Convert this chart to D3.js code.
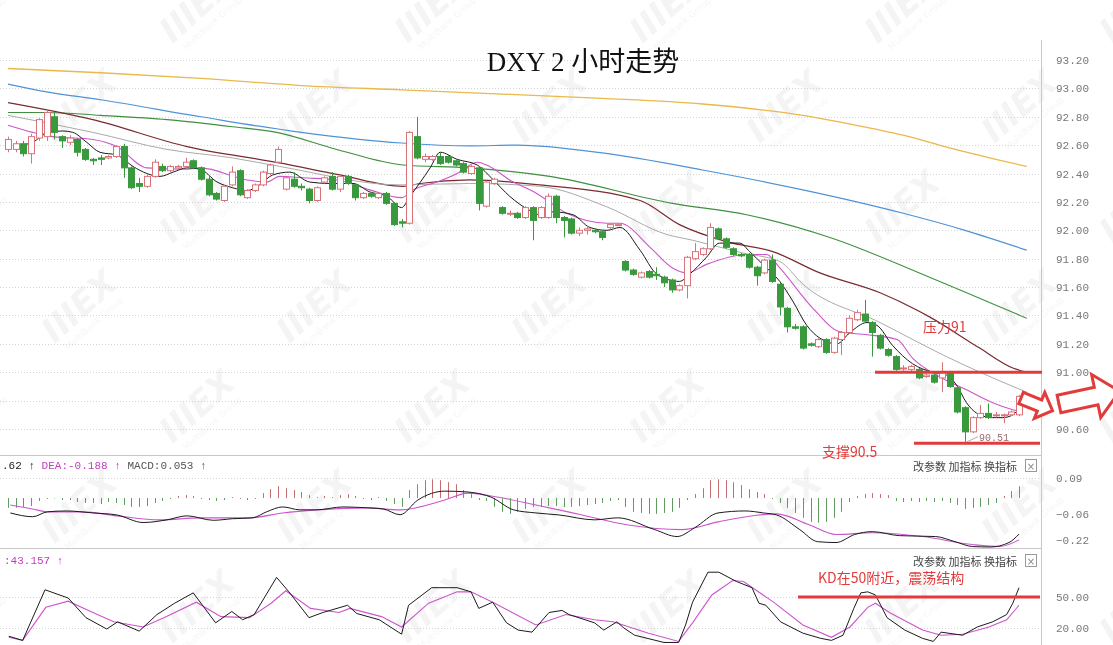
<!DOCTYPE html>
<html><head><meta charset="utf-8">
<script src="https://cdn.jsdelivr.net/npm/d3@7"></script>
<style>
body{margin:0;background:#fff;overflow:hidden}
svg{display:block}
</style></head>
<body><svg id="chart" width="1113" height="645"></svg>
<script>
// ---------- DATA ----------
const opens =[92.57,92.57,92.61,92.54,92.65,92.66,92.80,92.66,92.62,92.64,92.57,92.50,92.51,92.51,92.52,92.59,92.44,92.33,92.31,92.38,92.45,92.42,92.44,92.45,92.49,92.44,92.36,92.26,92.21,92.32,92.42,92.23,92.28,92.32,92.40,92.48,92.29,92.36,92.31,92.29,92.21,92.34,92.38,92.29,92.38,92.32,92.23,92.26,92.23,92.26,92.19,92.06,92.05,92.66,92.50,92.50,92.52,92.52,92.49,92.47,92.40,92.44,92.17,92.33,92.16,92.12,92.12,92.09,92.16,92.09,92.09,92.24,92.09,92.08,91.98,92.00,92.00,91.99,92.02,92.04,91.78,91.72,91.67,91.71,91.69,91.67,91.65,91.58,91.61,91.80,91.83,91.87,92.01,91.94,91.87,91.83,91.83,91.74,91.70,91.79,91.62,91.45,91.32,91.32,91.20,91.18,91.23,91.14,91.23,91.28,91.37,91.41,91.35,91.26,91.16,91.11,91.03,91.02,91.02,90.97,90.98,90.96,91.00,90.89,90.75,90.58,90.68,90.71,90.70,90.70,90.70,90.70];
const highs =[92.66,92.63,92.63,92.68,92.79,92.85,92.83,92.67,92.67,92.65,92.58,92.51,92.53,92.53,92.60,92.61,92.45,92.37,92.39,92.50,92.47,92.46,92.46,92.51,92.50,92.45,92.39,92.27,92.32,92.45,92.43,92.29,92.33,92.42,92.47,92.59,92.38,92.41,92.33,92.30,92.31,92.38,92.41,92.39,92.39,92.33,92.27,92.27,92.27,92.27,92.20,92.08,92.70,92.80,92.54,92.53,92.55,92.53,92.50,92.48,92.46,92.45,92.35,92.37,92.17,92.14,92.13,92.17,92.17,92.17,92.26,92.25,92.10,92.09,92.02,92.03,92.01,92.00,92.05,92.05,91.79,91.73,91.71,91.72,91.74,91.68,91.66,91.62,91.82,91.91,91.88,92.05,92.02,91.95,91.88,91.84,91.84,91.75,91.80,91.83,91.63,91.46,91.34,91.33,91.21,91.24,91.24,91.25,91.29,91.40,91.44,91.51,91.36,91.27,91.17,91.12,91.05,91.05,91.03,90.99,90.99,91.07,91.01,90.90,90.76,90.69,90.77,90.78,90.72,90.71,90.73,90.84];
const lows  =[92.55,92.55,92.52,92.47,92.63,92.63,92.64,92.58,92.60,92.52,92.49,92.46,92.46,92.50,92.51,92.37,92.29,92.27,92.30,92.37,92.41,92.41,92.43,92.44,92.43,92.35,92.24,92.21,92.20,92.31,92.24,92.22,92.27,92.31,92.39,92.47,92.28,92.30,92.28,92.19,92.20,92.33,92.28,92.27,92.32,92.21,92.22,92.23,92.22,92.18,92.03,92.02,92.04,92.50,92.48,92.49,92.46,92.47,92.45,92.40,92.39,92.14,92.16,92.32,92.11,92.10,92.08,92.08,91.93,92.08,92.08,92.05,91.95,91.97,91.96,91.97,91.98,91.93,92.01,92.03,91.71,91.68,91.66,91.66,91.65,91.60,91.56,91.57,91.52,91.79,91.82,91.86,91.93,91.87,91.82,91.81,91.73,91.61,91.69,91.63,91.40,91.28,91.30,91.16,91.18,91.17,91.13,91.13,91.12,91.27,91.36,91.35,91.11,91.16,91.11,91.01,91.01,91.01,90.95,90.96,90.92,90.86,90.89,90.71,90.51,90.57,90.67,90.67,90.68,90.64,90.69,90.69];
const closes=[92.64,92.61,92.54,92.66,92.78,92.83,92.69,92.63,92.65,92.55,92.50,92.49,92.50,92.52,92.59,92.44,92.30,92.31,92.38,92.48,92.42,92.45,92.45,92.48,92.44,92.36,92.25,92.22,92.31,92.41,92.25,92.28,92.32,92.41,92.46,92.57,92.37,92.31,92.30,92.21,92.30,92.37,92.29,92.38,92.33,92.23,92.26,92.24,92.26,92.19,92.04,92.05,92.69,92.51,92.52,92.52,92.47,92.48,92.46,92.41,92.45,92.19,92.34,92.36,92.12,92.12,92.09,92.16,92.07,92.16,92.24,92.09,92.07,91.98,92.00,92.01,91.99,91.95,92.04,92.04,91.72,91.69,91.70,91.67,91.68,91.63,91.58,91.61,91.81,91.85,91.87,92.02,91.94,91.88,91.83,91.82,91.74,91.68,91.79,91.64,91.46,91.32,91.31,91.17,91.19,91.23,91.14,91.24,91.28,91.38,91.42,91.36,91.28,91.17,91.12,91.02,91.03,91.04,90.96,90.98,90.93,91.00,90.90,90.72,90.58,90.68,90.71,90.68,90.70,90.70,90.72,90.83];

const priceTicks=[93.20,93.00,92.80,92.60,92.40,92.20,92.00,91.80,91.60,91.40,91.20,91.00,90.80,90.60];
const macdTicks=[0.09,-0.06,-0.22];
const kdTicks=[50,20];

// moving averages read at sample positions: [candle index, price]
const ma5  =[[1.5,92.60],[3.2,92.62],[5.1,92.69],[7.1,92.70],[8.4,92.69],[10.2,92.62],[11.9,92.55],[14.1,92.53],[16.2,92.45],[18,92.40],[19.7,92.38],[21.4,92.41],[23.2,92.44],[24.9,92.43],[27.1,92.34],[29.1,92.30],[31,92.28],[32.6,92.32],[34.3,92.39],[36.5,92.41],[39.1,92.34],[41.7,92.33],[44.7,92.33],[46.9,92.27],[49.1,92.24],[51,92.16],[52.1,92.24],[54.7,92.44],[56,92.55],[58.2,92.50],[60.8,92.46],[62.8,92.36],[65,92.24],[67.6,92.14],[68.9,92.11],[70.6,92.13],[73.2,92.11],[75.4,92.02],[77.6,92.00],[79.3,92.02],[81.9,91.86],[84.1,91.69],[87,91.64],[88.3,91.69],[90.5,91.81],[92.2,91.91],[94.8,91.91],[96.1,91.85],[97.8,91.76],[100,91.64],[101.7,91.50],[103.5,91.33],[105.2,91.24],[107.4,91.20],[109.1,91.28],[111.3,91.35],[112.6,91.33],[114.6,91.19],[117.2,91.06],[119.8,91.00],[121.6,90.98],[122.9,90.91],[124.2,90.785],[125.9,90.70],[127.6,90.68],[128.9,90.68],[130.2,90.70],[131.1,90.75]];
const ma10 =[[0,92.74],[3.2,92.69],[5.8,92.66],[11,92.64],[14.1,92.59],[18,92.44],[23.2,92.43],[24.9,92.44],[31,92.355],[33.5,92.34],[35.2,92.38],[38.2,92.37],[42.6,92.355],[46.9,92.285],[51,92.23],[52.5,92.285],[55.6,92.34],[58.2,92.40],[60.8,92.48],[62.4,92.45],[65,92.355],[68.5,92.26],[72.4,92.12],[77.6,92.05],[79.3,92.05],[83.2,91.88],[86.1,91.735],[88,91.70],[90.5,91.76],[95.7,91.83],[98.3,91.83],[100,91.735],[104.3,91.45],[107.8,91.285],[112,91.26],[115.2,91.23],[117.2,91.10],[120.7,90.968],[124.2,90.876],[127.6,90.785],[130.2,90.735],[131.3,90.72]];
const ma20 =[[0,92.81],[11,92.69],[20.6,92.57],[29.1,92.51],[35.2,92.45],[50.8,92.32],[59.8,92.33],[68.9,92.31],[77.6,92.165],[85.4,91.97],[88.7,91.93],[95.2,91.84],[100,91.78],[103,91.62],[113,91.35],[121.6,91.11],[130.2,90.90],[132,90.86]];
const ma30 =[[0,92.90],[11,92.78],[23.2,92.59],[35.2,92.475],[43,92.39],[51.2,92.31],[53.4,92.33],[59.8,92.355],[68.9,92.32],[81.9,92.21],[87,92.04],[93.1,91.92],[99.1,91.85],[105.2,91.70],[113,91.56],[119.4,91.39],[125.9,91.17],[130.2,91.03],[132,91.00]];
const ma60 =[[0,92.83],[5,92.83],[12,92.81],[20.6,92.78],[29.1,92.73],[34.8,92.69],[42.6,92.57],[51.2,92.46],[59.8,92.44],[70.2,92.38],[86.1,92.19],[95.7,92.11],[106.5,91.95],[119.4,91.67],[132,91.38]];
const ma120=[[0,93.03],[5,92.975],[12,92.92],[25,92.80],[38,92.69],[51,92.615],[60,92.595],[66,92.60],[77,92.545],[90,92.425],[103,92.285],[116,92.12],[124,92.00],[132,91.86]];
const ma250=[[0,93.14],[12,93.11],[25,93.07],[38,93.02],[51,92.99],[64,92.96],[77,92.93],[90,92.89],[103,92.81],[109,92.75],[116,92.67],[122,92.58],[128,92.50],[132,92.45]];

// MACD histogram, one per candle
const macdHist=[-0.044,-0.044,-0.04,-0.036,-0.013,-0.004,-0.002,-0.009,-0.009,-0.018,-0.022,-0.022,-0.027,-0.018,-0.022,-0.031,-0.04,-0.04,-0.036,-0.022,-0.013,-0.004,0.009,0.013,0.009,-0.004,-0.009,-0.013,-0.009,0.004,-0.004,-0.009,-0.004,0.022,0.04,0.053,0.044,0.036,0.027,0.013,0.004,0.009,0.004,0.013,0.018,0.009,-0.004,-0.009,0.004,-0.013,-0.027,-0.04,0.036,0.062,0.08,0.084,0.08,0.071,0.062,0.036,0.018,-0.009,-0.013,-0.04,-0.062,-0.071,-0.062,-0.049,-0.04,-0.04,-0.036,-0.036,-0.04,-0.04,-0.036,-0.031,-0.027,-0.022,-0.013,-0.009,-0.04,-0.062,-0.067,-0.071,-0.071,-0.067,-0.062,-0.044,-0.009,0.018,0.044,0.08,0.084,0.08,0.071,0.058,0.04,0.027,0.018,-0.004,-0.022,-0.044,-0.067,-0.089,-0.107,-0.111,-0.107,-0.089,-0.062,-0.018,0.009,0.018,0.022,0.018,0.013,-0.013,-0.018,-0.013,-0.018,-0.013,-0.018,-0.013,-0.022,-0.031,-0.049,-0.044,-0.04,-0.031,-0.022,0.009,0.031,0.053];
const macdDif=[[0.3,-0.067],[3.2,-0.084],[5.1,-0.062],[7.6,-0.058],[11,-0.067],[14.1,-0.076],[17.5,-0.11],[20.6,-0.098],[23.2,-0.08],[26.6,-0.10],[29.1,-0.093],[31.7,-0.089],[33.5,-0.062],[35.6,-0.04],[37.8,-0.053],[40,-0.053],[43.4,-0.04],[46.5,-0.044],[48.6,-0.049],[50.8,-0.075],[53.1,-0.009],[56.6,0.031],[59.6,0.027],[62.6,0.004],[65.5,-0.053],[68.4,-0.067],[71.4,-0.076],[76,-0.098],[79,-0.089],[83.8,-0.142],[86.7,-0.173],[89,-0.133],[92,-0.067],[95.5,-0.058],[97.9,-0.067],[99.6,-0.076],[102.6,-0.142],[104.9,-0.196],[107.3,-0.20],[109.7,-0.164],[112,-0.151],[115.5,-0.169],[120.2,-0.173],[122.7,-0.196],[125,-0.218],[127.3,-0.22],[129.7,-0.20],[131,-0.162]];
const macdDea=[[0.3,-0.031],[3.2,-0.049],[5.1,-0.062],[9.7,-0.062],[14.1,-0.08],[19.7,-0.098],[24.9,-0.089],[31.3,-0.089],[35.6,-0.067],[40,-0.053],[46.5,-0.044],[50.8,-0.053],[56.6,-0.009],[59.6,0.022],[62.6,0.009],[68.4,-0.031],[74.4,-0.076],[80.2,-0.12],[87.3,-0.142],[92,-0.107],[97.3,-0.076],[99.6,-0.071],[103.8,-0.12],[107.3,-0.164],[112,-0.156],[118.5,-0.173],[125,-0.209],[128.5,-0.218],[131,-0.188]];

// KD
const kLine=[[0.1,12],[1.9,8],[4.8,57],[7.8,49],[10.1,30],[12.8,19],[14.2,26],[17,17],[19.3,33],[21.6,44],[24,54],[26.9,25],[29,36],[30.4,28],[31.9,33],[34.8,69],[36.4,55],[39,30],[40.8,35],[44,42],[45.2,34],[48.1,28],[51,14],[51.9,42],[54.9,59],[58.2,59],[60,55],[61,39],[62.8,45],[64.6,25],[66.1,18],[67.9,16],[70.1,35],[71.8,37],[72.7,33],[76,25],[77.2,18],[78.9,26],[79.8,20],[81.2,13],[85,6],[86.9,6],[87.8,23],[88.7,45],[90.7,74],[92.1,74],[94.4,65],[96.4,59],[97.3,44],[98.2,42],[100.1,26],[103,15],[105.3,10],[106.7,8],[108.2,13],[109.6,39],[110.5,54],[111.4,55],[112.4,52],[113.9,30],[116.2,18],[118.5,10],[119.9,7],[120.9,16],[123.7,13],[125.6,21],[127.6,26],[129.4,33],[130.2,44],[131,59]];
const dLine=[[0.1,11],[1.9,8],[4.9,40],[7.8,46],[11,35],[13.7,26],[17.5,21],[20.2,30],[24.4,45],[27.6,31],[31.3,30],[34.1,44],[36,56],[39.2,39],[42.9,35],[44.3,39],[48.4,31],[51,21],[54.5,44],[58.2,55],[60,55],[62.8,45],[68.4,23],[72.3,33],[76,28],[78.4,26],[83,15],[86.9,7],[88.7,25],[91.2,52],[93.9,66],[95.3,65],[99.2,45],[103,23],[106.7,11],[109.1,21],[111.4,40],[112.4,44],[114.2,35],[118.5,18],[120.9,13],[123.7,14],[127.1,21],[129.4,28],[131,42]];

// ---------- LAYOUT ----------
const svg=d3.select('#chart');
const N=opens.length;
const PLOT_R=1041;
const x=d3.scaleLinear().domain([0,N-1]).range([8,1019]);
const y=d3.scaleLinear().domain([90.6,93.2]).range([429,60]);
const yM=d3.scaleLinear().domain([-0.22,0.09]).range([547,478]);
const yK=d3.scaleLinear().domain([20,50]).range([628,597]);
const MONO='"Liberation Mono","Noto Sans CJK SC",monospace';
const CJK='"Noto Sans CJK SC","Noto Sans",sans-serif';

svg.append('rect').attr('width',1113).attr('height',645).attr('fill','#fff');

// watermark lattice (decorative, faint)
const wm=svg.append('g').attr('fill','#000').attr('opacity',0.045);
for(let r=0;r<7;r++){for(let c=0;c<6;c++){
  const cx=-30+c*235+(r%2)*117, cy=15+r*100;
  const g=wm.append('g').attr('transform',`translate(${cx},${cy}) rotate(-42)`);
  g.append('text').attr('font-family','"DejaVu Sans",sans-serif').attr('font-weight','bold').attr('font-style','italic').attr('font-size',34).attr('text-anchor','middle').text('IIIEX');
  g.append('text').attr('y',14).attr('font-family','"DejaVu Sans",sans-serif').attr('font-size',9).attr('text-anchor','middle').text('MultiBank Group');
}}

// gridlines
const grid=svg.append('g').attr('stroke','#d4d4d4').attr('stroke-dasharray','1,2');
grid.selectAll('line.p').data(priceTicks).join('line').attr('x1',0).attr('x2',PLOT_R).attr('y1',d=>Math.round(y(d))+0.5).attr('y2',d=>Math.round(y(d))+0.5);
grid.selectAll('line.m').data([0.09]).join('line').attr('x1',0).attr('x2',PLOT_R).attr('y1',d=>Math.round(yM(d))+0.5).attr('y2',d=>Math.round(yM(d))+0.5);
grid.selectAll('line.k').data(kdTicks).join('line').attr('class','k').attr('x1',0).attr('x2',PLOT_R).attr('y1',d=>Math.round(yK(d))+0.5).attr('y2',d=>Math.round(yK(d))+0.5);

// panel frame
const frame=svg.append('g').attr('stroke','#c8c8c8').attr('stroke-width',1);
frame.append('line').attr('x1',0).attr('x2',PLOT_R).attr('y1',455.5).attr('y2',455.5);
frame.append('line').attr('x1',0).attr('x2',PLOT_R).attr('y1',548.5).attr('y2',548.5);
frame.append('line').attr('x1',PLOT_R+0.5).attr('x2',PLOT_R+0.5).attr('y1',40).attr('y2',645);

// title
svg.append('text').attr('x',583).attr('y',71).attr('text-anchor','middle')
  .attr('font-family','"Liberation Serif","Noto Sans CJK SC",serif').attr('font-size',27).attr('fill','#111')
  .text('DXY 2 小时走势');

// right axes
const axisG=svg.append('g').attr('transform',`translate(${PLOT_R},0)`);
const ax=d3.axisRight(y).tickValues(priceTicks).tickFormat(d3.format('.2f')).tickSize(0).tickPadding(15);
axisG.call(ax);
const axM=d3.axisRight(yM).tickValues(macdTicks).tickFormat(d3.format('.2f')).tickSize(0).tickPadding(15);
const gM=svg.append('g').attr('transform',`translate(${PLOT_R},0)`).call(axM);
const axK=d3.axisRight(yK).tickValues(kdTicks).tickFormat(d3.format('.2f')).tickSize(0).tickPadding(15);
const gK=svg.append('g').attr('transform',`translate(${PLOT_R},0)`).call(axK);
[axisG,gM,gK].forEach(g=>{g.select('.domain').remove();g.selectAll('text').attr('font-family',MONO).attr('font-size',11).attr('fill','#777');});
gM.selectAll('.tick').filter(d=>d===-0.22).select('text').attr('dy','-0.3em');
gM.selectAll('.tick').filter(d=>d===-0.06).select('text').attr('dy','0.6em');

// moving averages
const line=d3.line().x(d=>x(d[0])).y(d=>y(d[1])).curve(d3.curveMonotoneX);
const maDefs=[[ma250,'#e9b949',1.3],[ma120,'#4f93d6',1.2],[ma60,'#3f8f3f',1.1],[ma30,'#7a2b30',1.2],[ma20,'#a9a9a9',1],[ma10,'#cc55cc',1.1],[ma5,'#1a1a1a',1]];
maDefs.forEach(([d,c,w])=>svg.append('path').attr('d',line(d)).attr('fill','none').attr('stroke',c).attr('stroke-width',w));

// candles
const candles=svg.append('g');
const idx=d3.range(N);
const up=i=>closes[i]>=opens[i];
const colUp='#d9737a', colDn='#389a3c';
candles.selectAll('line').data(idx).join('line')
  .attr('x1',i=>Math.round(x(i))+0.5).attr('x2',i=>Math.round(x(i))+0.5)
  .attr('y1',i=>y(highs[i])).attr('y2',i=>y(lows[i]))
  .attr('stroke',i=>up(i)?colUp:colDn).attr('stroke-width',1);
candles.selectAll('rect').data(idx).join('rect')
  .attr('x',i=>Math.round(x(i))-2.5).attr('width',6)
  .attr('y',i=>y(Math.max(opens[i],closes[i])))
  .attr('height',i=>Math.max(1,Math.abs(y(opens[i])-y(closes[i]))))
  .attr('fill',i=>up(i)?'#fff':colDn).attr('stroke',i=>up(i)?colUp:colDn).attr('stroke-width',1);

// MACD
svg.append('g').selectAll('line').data(idx).join('line')
  .attr('x1',i=>Math.round(x(i))+0.5).attr('x2',i=>Math.round(x(i))+0.5)
  .attr('y1',yM(0)).attr('y2',i=>yM(macdHist[i]))
  .attr('stroke',i=>macdHist[i]>=0?'#c86a72':'#5f9a5f').attr('stroke-width',1);
const lineM=d3.line().x(d=>x(d[0])).y(d=>yM(d[1])).curve(d3.curveMonotoneX);
svg.append('path').attr('d',lineM(macdDea)).attr('fill','none').attr('stroke','#cc55cc').attr('stroke-width',1.1);
svg.append('path').attr('d',lineM(macdDif)).attr('fill','none').attr('stroke','#1a1a1a').attr('stroke-width',1);

// KD
const lineK=d3.line().x(d=>x(d[0])).y(d=>yK(d[1])).curve(d3.curveLinear);
svg.append('path').attr('d',lineK(dLine)).attr('fill','none').attr('stroke','#cc55cc').attr('stroke-width',1.1);
svg.append('path').attr('d',lineK(kLine)).attr('fill','none').attr('stroke','#1a1a1a').attr('stroke-width',1);

// indicator headers
const hdr=svg.append('text').attr('y',469).attr('font-family',MONO).attr('font-size',11);
hdr.append('tspan').attr('x',2).attr('fill','#222').text('.62 ↑ ');
hdr.append('tspan').attr('fill','#c040c0').text('DEA:-0.188 ↑ ');
hdr.append('tspan').attr('fill','#555').text('MACD:0.053 ↑');
svg.append('text').attr('x',4).attr('y',564).attr('font-family',MONO).attr('font-size',11).attr('fill','#c040c0').text(':43.157 ↑');

[466,561].forEach(yy=>{
  svg.append('text').attr('x',1017).attr('y',yy+5).attr('text-anchor','end').attr('font-family',CJK).attr('font-size',11).attr('fill','#444').text('改参数  加指标  换指标');
  svg.append('rect').attr('x',1025.5).attr('y',yy-6.5).attr('width',11).attr('height',12).attr('fill','#fff').attr('stroke','#999');
  svg.append('text').attr('x',1031).attr('y',yy+4).attr('text-anchor','middle').attr('font-family','"DejaVu Sans",sans-serif').attr('font-size',10).attr('fill','#888').text('×');
});

// annotations
const red='#e23b3b';
const ann=svg.append('g');
ann.append('line').attr('x1',875).attr('x2',1042).attr('y1',y(91.0)).attr('y2',y(91.0)).attr('stroke',red).attr('stroke-width',3);
ann.append('line').attr('x1',914).attr('x2',1040).attr('y1',y(90.5)).attr('y2',y(90.5)).attr('stroke',red).attr('stroke-width',3);
ann.append('text').attr('x',923).attr('y',332).attr('font-family',CJK).attr('font-size',14).attr('fill',red).text('压力91');
ann.append('text').attr('x',822).attr('y',457).attr('font-family',CJK).attr('font-size',14).attr('fill',red).text('支撑90.5');
ann.append('line').attr('x1',x(124)+2).attr('y1',y(90.51)).attr('x2',x(124)+13).attr('y2',y(90.51)-5).attr('stroke','#999').attr('stroke-width',0.8);
ann.append('text').attr('x',x(124)+14).attr('y',y(90.51)-1).attr('font-family',MONO).attr('font-size',10).attr('fill','#9a6a6a').text('90.51');
ann.append('line').attr('x1',798).attr('x2',1040).attr('y1',yK(50)).attr('y2',yK(50)).attr('stroke',red).attr('stroke-width',3);
ann.append('text').attr('x',818).attr('y',583).attr('font-family',CJK).attr('font-size',14).attr('fill',red).text('KD在50附近，震荡结构');

// hollow arrows
const arrowPath=(L,hl,tw,hw)=>`M0,${-tw}L${L-hl},${-tw}L${L-hl},${-hw}L${L},0L${L-hl},${hw}L${L-hl},${tw}L0,${tw}Z`;
ann.append('path').attr('d',arrowPath(34,14,6,14)).attr('transform','translate(1021,398) rotate(22)')
  .attr('fill','#fff').attr('stroke',red).attr('stroke-width',3).attr('stroke-linejoin','miter');
ann.append('path').attr('d',arrowPath(62,24,9,22)).attr('transform','translate(1059,404) rotate(-12)')
  .attr('fill','#fff').attr('stroke',red).attr('stroke-width',3).attr('stroke-linejoin','miter');
</script>
</body></html>
